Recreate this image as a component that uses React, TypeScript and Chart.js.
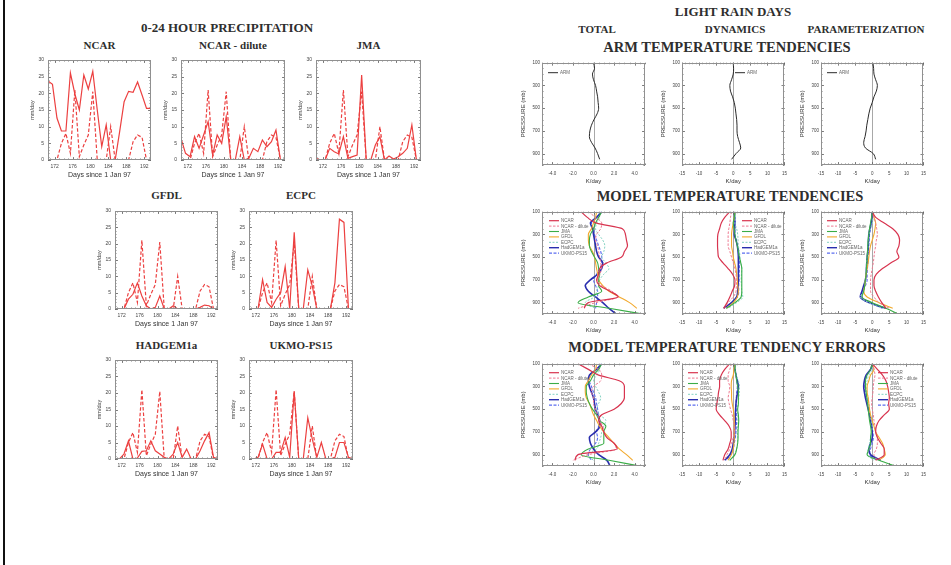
import React, { useEffect, useRef } from "react";
import { Chart, registerables } from "chart.js";
Chart.register(...registerables);

// ---------------- DATA ----------------
// Days (daily means, centred at noon)
const DAYS = [170.5, 171.5, 172.5, 173.5, 174.5, 175.5, 176.5, 177.5, 178.5, 179.5, 180.5, 181.5, 182.5, 183.5, 184.5, 185.5, 186.5, 187.5, 188.5, 189.5, 190.5, 191.5, 192.5, 193.5];
const PRECIP_X_TICKS = [172, 176, 180, 184, 188, 192];
const PRECIP_Y_TICKS = [0, 5, 10, 15, 20, 25, 30];

// observed (dashed) precipitation, mm/day
const OBS_PRECIP = [0, 0, 0, 5, 8, 2, 21, 1, 4.5, 7.5, 20.5, 0, 0, 0, 10, 0, 0, 0, 0, 5.5, 7.5, 6.8, 0, 0];
// model (solid) precipitation, mm/day
const NCAR_PRECIP = [23.7, 22.7, 12.6, 8.7, 8.7, 26.1, 19.8, 15, 25.5, 21.3, 26.6, 15, 4, 10.5, 0, 0, 8.5, 17.5, 20.6, 20.3, 23.4, 19.5, 15.5, 15.5];
const DILUTE_PRECIP = [6.5, 2, 1, 7, 3.5, 7.5, 11.5, 1.5, 7.5, 5, 13, 0, 0, 7, 0, 0.5, 3.5, 2.5, 6, 4, 5.5, 9, 0, 0];
const JMA_PRECIP = [0.5, 0, 0, 3.5, 2.5, 1.8, 7, 0.5, 1, 1.5, 25.5, 0, 0, 4.5, 7, 0, 1.2, 0.3, 1, 2, 3.5, 10.5, 0, 0];
const GFDL_PRECIP = [0, 0, 0, 3, 4.5, 8, 4, 1, 0, 0.5, 4, 0, 0, 1, 0, 0, 0, 0, 0, 0.5, 1.2, 1, 0, 0];
const ECPC_PRECIP = [0, 0, 0, 9, 2, 0.5, 3, 5, 13, 0, 23.5, 0, 0, 12, 7, 0, 0, 0, 0, 8, 27.5, 26.5, 0, 0];
const HADGEM_PRECIP = [0, 0, 1.5, 5.5, 0, 0.3, 2.3, 2.5, 5.5, 2.5, 1.5, 0.5, 0, 1.5, 5, 0.5, 3, 0, 0, 2.5, 5.5, 8, 0.5, 0];
const UKMO_PRECIP = [0, 0, 0.5, 4.5, 0, 0, 2, 2, 6.5, 0.5, 20.5, 0, 0, 12.5, 6, 0.5, 5, 0, 0, 0.5, 5, 5, 0.5, 0];

// Pressure levels (mb)
const LEVELS = [100, 150, 200, 250, 300, 350, 400, 450, 500, 550, 600, 650, 700, 750, 800, 850, 900, 950, 1000];
const PRESSURE_TICKS = [100, 300, 500, 700, 900];
const TOTAL_X_TICKS = [-4, -2, 0, 2, 4];
const WIDE_X_TICKS = [-15, -10, -5, 0, 5, 10, 15];

// ARM temperature tendencies, K/day
const ARM_TOTAL = [0, 0.1, -0.1, 0, 0.2, 0.3, 0.4, 0.45, 0.5, 0.35, 0.05, -0.2, -0.35, -0.4, -0.2, 0.15, 0.4, 0.6, null];
const ARM_DYN = [0, 0.1, 0, -0.5, -1, -0.8, -0.2, 0.3, 0.6, 0.8, 1, 1.1, 1.1, 1.3, 1.8, 2.2, 0.8, -0.5, null];
const ARM_PARAM = [0.2, 0.4, 0.5, 1, 1.5, 1.2, 0.5, 0, -0.6, -1, -1.3, -1.6, -1.8, -2.1, -2.5, -2, 0.3, 1, null];

const MODEL_NAMES = ["NCAR", "NCAR - dilute", "JMA", "GFDL", "ECPC", "HadGEM1a", "UKMO-PS15"];

// model tendencies, rows in MODEL_NAMES order
const TEND_TOTAL = [
  [-1.2, -0.6, 0.3, 2.8, 3.1, 3.2, 3.3, 3.0, 2.7, 1.3, 0.6, 0.5, 0.3, 0.6, 1.6, 2.4, -0.5, -0.9, null],
  [-0.5, 0.2, 0.8, 0.7, 0.3, 0.2, 0.4, 0.5, 0.6, 0.7, 0.8, 0.6, 0.4, 0.8, 1.8, 2.3, 0.2, -1.5, null],
  [0.8, 0.5, 0.2, 0, -0.3, -0.4, -0.4, -0.2, 0.1, 0.4, 0.5, 0.6, 0.5, 0.5, 0.8, -0.5, -1.5, 1.5, 4.8],
  [0.3, 0.2, 0, -0.2, -0.5, -0.5, -0.4, -0.1, 0.1, 0.2, 0.3, 0.4, 0.5, 0.9, 1.5, 2.5, 3.5, 4.2, null],
  [0.5, 0.6, 0.3, 0.2, 0.5, 0.9, 1.1, 1.0, 0.8, 1.2, 1.5, 1.0, 0.6, 0.5, 0.3, 0.1, -0.8, 0.2, null],
  [0.8, 0.3, -0.3, -0.1, 0, 0.1, 0.2, 0.3, 0.5, 0.9, 0.8, 0.4, -0.3, -0.8, -0.5, 0.2, 0.9, 1.5, 2.2],
  [0.8, 0.3, -0.2, 0, 0.1, 0.3, 0.5, 0.7, 0.8, 0.8, 0.6, 0.3, 0, 0.2, 0.4, 0.4, 0.3, 0.2, null],
];
const TEND_DYN = [
  [-1, -2.5, -3.5, -4, -4.5, -4.6, -4.6, -4.5, -4.3, -3, -1.5, -0.2, 0.5, 0.4, -0.3, -1, -1.8, -2.8, null],
  [-0.5, -0.8, -1, -1.3, -1.5, -1.5, -1.5, -1, -0.5, 0, 0.5, 0.8, 1, 0.9, 0.8, 0, -1.5, -2.5, null],
  [0.5, 0.3, 0, 0.3, 0.5, 0.8, 1.2, 1.5, 1.8, 2.2, 2.5, 2.5, 2.5, 2.5, 2.5, 2.3, 0.5, -2, null],
  [0.5, 0.3, 0, -0.3, -0.5, -0.5, -0.5, -0.2, 0, 0.4, 0.8, 1, 1.2, 1.3, 1.5, 1.2, 0, -2, null],
  [0.8, 0.6, 0.5, 1, 1.3, 1.4, 1.5, 1.8, 2, 2.2, 2.5, 2.4, 2.3, 2.4, 2.5, 2.8, 1, -1.5, null],
  [0.3, 0.4, 0.5, 0.4, 0.3, 0.8, 1.2, 1.4, 1.5, 1.5, 1.5, 1.5, 1.5, 1.4, 1.3, 1, -0.5, -2.8, null],
  [0.5, 0.5, 0.5, 0.5, 0.5, 0.9, 1.3, 1.6, 1.8, 1.8, 1.8, 1.7, 1.7, 1.6, 1.6, 1.2, -0.5, -2, null],
];
const TEND_PARAM = [
  [0, 1, 3.5, 6, 7.5, 8, 7.8, 7.2, 7.8, 5.5, 3, 1.2, 0.5, 0.5, 1, 1.8, 2.8, 4, null],
  [0, 0.5, 1, 1.3, 1.5, 1.2, 1, 0.7, 0.5, 0.3, 0, -0.3, -0.5, -0.5, -0.5, 0.5, 2, 5, null],
  [0, -0.2, -0.5, -0.8, -1, -1.2, -1.3, -1.4, -1.5, -1.6, -1.7, -1.8, -2, -2.2, -2.5, -3, 0, 4, 7.5],
  [0, 0.5, 1, 0.8, 0.5, 0, -0.5, -0.8, -1, -1.2, -1.5, -1.8, -2, -2.2, -2.5, -1.5, 2, 6, null],
  [0.5, 0.3, 0, -0.5, -1, -1.2, -1.3, -1.4, -1.5, -1.7, -1.8, -1.9, -2, -2.2, -2.5, -3.5, -1, 3, null],
  [0, -0.1, -0.3, -0.7, -1, -1.1, -1.2, -1.3, -1.5, -1.6, -1.7, -1.8, -2, -2.5, -3, -3.5, -1, 4, null],
  [0, -0.1, -0.3, -0.5, -0.8, -0.9, -1, -1.1, -1.2, -1.3, -1.4, -1.5, -1.5, -2, -2.8, -3, -0.5, 3, null],
];
// model tendency errors, rows in MODEL_NAMES order
const ERR_TOTAL = [
  [-1.5, -0.5, 0.5, 2.5, 3, 3, 3, 2.7, 2, 0.8, 0.5, 0.8, 1, 1.3, 2, 2.3, -1.5, -1.8, null],
  [-0.5, 0.5, 0.8, 0.7, 0, -0.2, 0, 0, 0.2, 0.4, 0.6, 0.9, 1, 1.3, 2, 2.2, -0.5, -2, null],
  [0.8, 0.5, 0, -0.3, -0.7, -0.7, -0.6, -0.4, -0.1, 0.3, 0.6, 1.2, 1, 1, 1, -0.5, -1.2, 1.5, 4.5],
  [0.3, 0.2, -0.2, -0.5, -0.8, -0.8, -0.7, -0.4, -0.2, 0, 0.3, 0.6, 1, 1.5, 2, 2.5, 3.2, 3.8, null],
  [0.5, 0.6, 0.3, 0, 0.2, 0.5, 0.7, 0.5, 0.3, 0.6, 1.2, 1, 0.8, 0.7, 0.5, 0.3, -0.6, 0, null],
  [0.8, 0.3, -0.4, -0.5, -0.4, -0.2, 0, 0.1, 0.2, 0.4, 0.6, 0.6, 0.2, -0.4, -0.3, 0, 0.5, 1.3, 1.6],
  [0.8, 0.3, -0.3, -0.4, -0.2, 0, 0.2, 0.3, 0.4, 0.5, 0.6, 0.5, 0.3, 0.4, 0.2, -0.3, -0.5, -0.2, null],
];
const ERR_DYN = [
  [-1, -2.5, -3.5, -4, -4, -4.3, -4.5, -4.8, -5, -4, -2.5, -1.2, -0.6, -0.6, -1, -1.5, -2.5, -3, null],
  [-0.5, -1, -1.5, -1.5, -1, -1.2, -1.5, -1.2, -0.8, -0.3, 0, 0.3, 0.3, 0, -0.5, -1, -1.8, -2.5, null],
  [0.5, 0.5, 0.8, 1, 1.3, 1.5, 1.5, 1.5, 1.3, 1.5, 1.6, 1.5, 1.4, 1.4, 1.3, 1, 0.5, -1, null],
  [0.5, 0.2, 0, -0.5, -0.6, -0.5, -0.5, -0.3, 0, 0.2, 0.3, 0.3, 0.3, 0.3, 0.2, 0, -0.5, -1.5, null],
  [0.8, 0.6, 0.8, 1.5, 1.8, 1.8, 1.6, 1.5, 1.2, 1.3, 1.4, 1.3, 1.2, 1.3, 1.2, 1, 0.3, -1, null],
  [0.3, 0.5, 0.8, 1.2, 1.5, 1.3, 1, 0.8, 0.7, 0.6, 0.6, 0.5, 0.4, 0.3, 0, -0.3, -1, -2.5, null],
  [0.5, 0.5, 0.8, 1, 1.2, 1, 0.9, 0.8, 0.9, 1, 1, 0.9, 0.8, 0.6, 0.3, 0, -0.8, -2, null],
];
const ERR_PARAM = [
  [0, 1.5, 3, 4, 4.5, 4.8, 5, 4.8, 5, 3.5, 2, 1.2, 1, 1.5, 2.5, 3.5, 3.5, 1, null],
  [0, 0.5, 0.8, 0.5, 0.3, 0.2, 0, -0.2, 0, 0.3, 0.5, 0.8, 1, 1.5, 1.5, 1.2, 0.5, 1.5, null],
  [0, -0.5, -1.5, -2, -2, -1.8, -1.6, -1.4, -1.2, -1, -0.8, -0.5, -0.3, -0.5, -0.5, -1, -1.5, 2, 6.5],
  [0, 0.5, -0.5, -1, -1.5, -1.5, -1.2, -1, -0.8, -0.5, 0, 0.5, 1, 2, 3, 3.5, 3.8, 2, null],
  [0.3, 0, -1, -1.5, -1.8, -1.5, -1.2, -1, -0.8, -0.6, -0.3, 0, -0.2, -0.5, -0.8, -1.2, -1.5, 0.5, null],
  [0, -0.5, -1.8, -2.3, -2.5, -2.3, -2, -1.6, -1.2, -0.8, -0.5, -0.2, 0, 0, -0.5, -1, -0.5, 2.5, null],
  [0, -0.5, -1.5, -2, -2.2, -2, -1.6, -1.3, -1, -0.7, -0.4, -0.2, 0.2, 0.3, 0, -0.5, -0.8, 1.5, null],
];

// ---------------- STYLES ----------------
const SANS = '"Liberation Sans", Arial, Helvetica, sans-serif';
const SERIF = '"Liberation Serif", "Times New Roman", serif';
const PRECIP_RED = "#ec4040";
const MODEL_COLORS = ["#d8344f", "#ee7a92", "#3aad47", "#f2a92c", "#84d2c2", "#2a2eae", "#5b6cf0"];
const MODEL_DASH = [[], [2.5, 1.5], [], [], [2, 1.5], [], [3, 1.5]];
const MODEL_WIDTH = [1.2, 1, 1.1, 1.1, 1, 1.6, 1.1];

// ---------------- PLUGINS ----------------
function minorValues(min: number, max: number, step: number) {
  const out: number[] = [];
  const lo = Math.min(min, max), hi = Math.max(min, max);
  for (let v = Math.ceil(lo / step - 1e-9) * step; v <= hi + 1e-9; v += step) out.push(v);
  return out;
}

const framePlugin: any = {
  id: "frame",
  beforeDatasetsDraw(chart: any, _a: any, o: any) {
    if (!o || !o.zero) return;
    const { ctx, chartArea: a } = chart;
    const x0 = Math.round(chart.scales.x.getPixelForValue(0)) + 0.5;
    ctx.save();
    ctx.strokeStyle = "#a8a8a8";
    ctx.lineWidth = 1;
    ctx.beginPath();
    ctx.moveTo(x0, a.top);
    ctx.lineTo(x0, a.bottom);
    ctx.stroke();
    ctx.restore();
  },
  afterDatasetsDraw(chart: any, _a: any, o: any) {
    const { ctx, chartArea: a, scales } = chart;
    const xs = scales.x, ys = scales.y;
    ctx.save();
    ctx.strokeStyle = "#666";
    ctx.lineWidth = 0.8;
    ctx.beginPath();
    const xt = (v: number, len: number) => {
      const p = Math.round(xs.getPixelForValue(v)) + 0.5;
      ctx.moveTo(p, a.bottom); ctx.lineTo(p, a.bottom - len);
      ctx.moveTo(p, a.top); ctx.lineTo(p, a.top + len);
    };
    const yt = (v: number, len: number) => {
      const p = Math.round(ys.getPixelForValue(v)) + 0.5;
      ctx.moveTo(a.left, p); ctx.lineTo(a.left + len, p);
      ctx.moveTo(a.right, p); ctx.lineTo(a.right - len, p);
    };
    minorValues(xs.min, xs.max, o.xMinor).forEach((v) => xt(v, 1.5));
    minorValues(ys.min, ys.max, o.yMinor).forEach((v) => yt(v, 1.5));
    xs.ticks.forEach((t: any) => xt(t.value, 3));
    ys.ticks.forEach((t: any) => yt(t.value, 3));
    ctx.stroke();
    ctx.strokeStyle = "#909090";
    ctx.lineWidth = 1;
    ctx.strokeRect(Math.round(a.left) + 0.5, Math.round(a.top) + 0.5, Math.round(a.right - a.left) - 1, Math.round(a.bottom - a.top) - 1);
    ctx.restore();
  },
};

const legendPlugin: any = {
  id: "inlegend",
  afterDatasetsDraw(chart: any, _a: any, o: any) {
    if (!o || !o.show) return;
    const { ctx, chartArea: a } = chart;
    let y = a.top + o.dy;
    const x = a.left + o.dx;
    ctx.save();
    ctx.font = `4.5px ${SANS}`;
    ctx.textBaseline = "middle";
    chart.data.datasets.forEach((ds: any) => {
      ctx.strokeStyle = ds.borderColor;
      ctx.lineWidth = Math.min(ds.borderWidth, 1.4);
      ctx.setLineDash(ds.borderDash || []);
      ctx.beginPath();
      ctx.moveTo(x, y);
      ctx.lineTo(x + 10, y);
      ctx.stroke();
      ctx.setLineDash([]);
      ctx.fillStyle = "#666";
      ctx.fillText(ds.label, x + 12, y + 0.3);
      y += o.gap;
    });
    ctx.restore();
  },
};

// ---------------- CHART BUILDERS ----------------
const P_L = 22, P_T = 4, P_R = 6, P_B = 20;
const V_L = 26, V_T = 4, V_R = 8, V_B = 20;

function baseOptions(T: number, R: number) {
  return {
    animation: false,
    responsive: false,
    devicePixelRatio: 1,
    events: [],
    layout: { padding: { top: T, right: R, left: 0, bottom: 0 }, autoPadding: false },
  };
}

function precipConfig(model: number[]) {
  return {
    type: "line",
    data: {
      datasets: [
        { label: "model", data: DAYS.map((d, i) => ({ x: d, y: model[i] })), borderColor: PRECIP_RED, borderWidth: 1.2, pointRadius: 0, tension: 0 },
        { label: "ARM", data: DAYS.map((d, i) => ({ x: d, y: OBS_PRECIP[i] })), borderColor: PRECIP_RED, borderWidth: 1.2, borderDash: [3.5, 2], pointRadius: 0, tension: 0 },
      ],
    },
    options: {
      ...baseOptions(P_T, P_R),
      plugins: { legend: { display: false }, tooltip: { enabled: false }, frame: { xMinor: 1, yMinor: 1, zero: false }, inlegend: { show: false } },
      scales: {
        x: {
          type: "linear", min: DAYS[0], max: DAYS[DAYS.length - 1],
          afterBuildTicks: (s: any) => { s.ticks = PRECIP_X_TICKS.map((v) => ({ value: v })); },
          afterFit: (s: any) => { s.height = P_B; },
          grid: { display: false, drawTicks: false }, border: { display: false },
          ticks: { font: { size: 5, family: SANS }, color: "#444", padding: 4, maxRotation: 0, autoSkip: false },
          title: { display: true, text: "Days since 1 Jan 97", font: { size: 7, family: SANS }, color: "#333", padding: { top: 0, bottom: 1 } },
        },
        y: {
          type: "linear", min: 0, max: 30,
          afterBuildTicks: (s: any) => { s.ticks = PRECIP_Y_TICKS.map((v) => ({ value: v })); },
          afterFit: (s: any) => { s.width = P_L; },
          grid: { display: false, drawTicks: false }, border: { display: false },
          ticks: { font: { size: 5, family: SANS }, color: "#444", padding: 4, autoSkip: false },
          title: { display: true, text: "mm/day", font: { size: 5.5, family: SANS }, color: "#444", padding: { top: 3, bottom: 0 } },
        },
      },
    },
  };
}

type Series = { label: string; data: (number | null)[]; color: string; dash: number[]; width: number };

function profileConfig(series: Series[], wide: boolean, leg: { dx: number; dy: number; gap: number }) {
  const xr = wide ? 15 : 5;
  const xticks = wide ? WIDE_X_TICKS : TOTAL_X_TICKS;
  return {
    type: "line",
    data: {
      datasets: series.map((s) => ({
        label: s.label,
        data: LEVELS.map((p, i) => ({ x: s.data[i], y: p })).filter((d) => d.x !== null),
        borderColor: s.color, borderWidth: s.width, borderDash: s.dash, pointRadius: 0, tension: 0.3, cubicInterpolationMode: "monotone",
      })),
    },
    options: {
      ...baseOptions(V_T, V_R),
      indexAxis: "y",
      plugins: {
        legend: { display: false }, tooltip: { enabled: false },
        frame: { xMinor: wide ? 1 : 0.5, yMinor: 50, zero: true },
        inlegend: { show: true, dx: leg.dx, dy: leg.dy, gap: leg.gap },
      },
      scales: {
        x: {
          type: "linear", min: -xr, max: xr,
          afterBuildTicks: (s: any) => { s.ticks = xticks.map((v) => ({ value: v })); },
          afterFit: (s: any) => { s.height = V_B; },
          grid: { display: false, drawTicks: false }, border: { display: false },
          ticks: { font: { size: 4.5, family: SANS }, color: "#444", padding: 6, maxRotation: 0, autoSkip: false, callback: (v: any) => (wide ? String(v) : Number(v).toFixed(1)) },
          title: { display: true, text: "K/day", font: { size: 6, family: SANS }, color: "#333", padding: { top: 0, bottom: 0 } },
        },
        y: {
          type: "linear", min: 100, max: 1000, reverse: true,
          afterBuildTicks: (s: any) => { s.ticks = PRESSURE_TICKS.map((v) => ({ value: v })); },
          afterFit: (s: any) => { s.width = V_L; },
          grid: { display: false, drawTicks: false }, border: { display: false },
          ticks: { font: { size: 4.5, family: SANS }, color: "#444", padding: 2, autoSkip: false },
          title: { display: true, text: "PRESSURE (mb)", font: { size: 6, family: SANS }, color: "#333", padding: { top: 3.4, bottom: 0 } },
        },
      },
    },
  };
}

function modelSeries(rows: (number | null)[][]): Series[] {
  return MODEL_NAMES.map((n, i) => ({ label: n, data: rows[i], color: MODEL_COLORS[i], dash: MODEL_DASH[i], width: MODEL_WIDTH[i] }));
}
function armSeries(d: (number | null)[]): Series[] {
  return [{ label: "ARM", data: d, color: "#2a2a2a", dash: [], width: 1 }];
}

// ---------------- COMPONENTS ----------------
function ChartCanvas({ left, top, width, height, build }: any) {
  const ref = useRef<HTMLCanvasElement>(null);
  useEffect(() => {
    const chart = new Chart(ref.current as HTMLCanvasElement, build() as any);
    return () => chart.destroy();
  }, []);
  return <canvas ref={ref} width={width} height={height} style={{ position: "absolute", left, top, width, height }} />;
}

function Label({ x, y, size, children }: any) {
  return (
    <div style={{ position: "absolute", left: x, top: y, transform: "translate(-50%,-50%)", fontFamily: SERIF, fontWeight: 700, fontSize: size, lineHeight: 1, whiteSpace: "nowrap", color: "#2e2e2e" }}>
      {children}
    </div>
  );
}

const PRECIP_PANELS = [
  { title: "NCAR", data: NCAR_PRECIP, x: 48, y: 57, w: 103, h: 103, ty: 45 },
  { title: "NCAR - dilute", data: DILUTE_PRECIP, x: 181, y: 57, w: 104, h: 103, ty: 45 },
  { title: "JMA", data: JMA_PRECIP, x: 316, y: 57, w: 105, h: 103, ty: 45 },
  { title: "GFDL", data: GFDL_PRECIP, x: 115, y: 208, w: 103, h: 101, ty: 195 },
  { title: "ECPC", data: ECPC_PRECIP, x: 249, y: 208, w: 104, h: 101, ty: 195 },
  { title: "HADGEM1a", data: HADGEM_PRECIP, x: 115, y: 357, w: 103, h: 102, ty: 345 },
  { title: "UKMO-PS15", data: UKMO_PRECIP, x: 249, y: 357, w: 104, h: 102, ty: 345 },
];

const COL_X = [542, 682, 821];
const ROW_Y = [62, 211, 363];
const PROFILE_W = 103;
const PROFILE_H = 103;

const PROFILE_PANELS = [
  { row: 0, col: 0, series: armSeries(ARM_TOTAL), leg: { dx: 6, dy: 10, gap: 5 } },
  { row: 0, col: 1, series: armSeries(ARM_DYN), leg: { dx: 53, dy: 10, gap: 5 } },
  { row: 0, col: 2, series: armSeries(ARM_PARAM), leg: { dx: 6, dy: 10, gap: 5 } },
  { row: 1, col: 0, series: modelSeries(TEND_TOTAL), leg: { dx: 7, dy: 9, gap: 5.4 } },
  { row: 1, col: 1, series: modelSeries(TEND_DYN), leg: { dx: 60, dy: 9, gap: 5.4 } },
  { row: 1, col: 2, series: modelSeries(TEND_PARAM), leg: { dx: 6, dy: 9, gap: 5.4 } },
  { row: 2, col: 0, series: modelSeries(ERR_TOTAL), leg: { dx: 7, dy: 9, gap: 5.4 } },
  { row: 2, col: 1, series: modelSeries(ERR_DYN), leg: { dx: 6, dy: 9, gap: 5.4 } },
  { row: 2, col: 2, series: modelSeries(ERR_PARAM), leg: { dx: 57, dy: 9, gap: 5.4 } },
];

Chart.register(framePlugin, legendPlugin);

export default function App() {
  return (
    <div style={{ position: "absolute", left: 0, top: 0, width: 951, height: 565, background: "#fff", overflow: "hidden" }}>
      <div style={{ position: "absolute", left: 3, top: 0, width: 2, height: 565, background: "#111" }} />

      <Label x={227} y={27} size={13}>0-24 HOUR PRECIPITATION</Label>
      {PRECIP_PANELS.map((p, i) => (
        <React.Fragment key={"p" + i}>
          <Label x={p.x + p.w / 2} y={p.ty} size={11}>{p.title}</Label>
          <ChartCanvas left={p.x - P_L} top={p.y - P_T} width={p.w + P_L + P_R} height={p.h + P_T + P_B} build={() => precipConfig(p.data)} />
        </React.Fragment>
      ))}

      <Label x={733} y={11} size={13}>LIGHT RAIN DAYS</Label>
      <Label x={597} y={29} size={11}>TOTAL</Label>
      <Label x={735} y={29} size={11}>DYNAMICS</Label>
      <Label x={866} y={29} size={11}>PARAMETERIZATION</Label>
      <Label x={727} y={47} size={14.5}>ARM TEMPERATURE TENDENCIES</Label>
      <Label x={730} y={196} size={14.5}>MODEL TEMPERATURE TENDENCIES</Label>
      <Label x={727} y={347} size={14.5}>MODEL TEMPERATURE TENDENCY ERRORS</Label>

      {PROFILE_PANELS.map((p, i) => {
        const bx = COL_X[p.col], by = ROW_Y[p.row];
        return (
          <ChartCanvas key={"v" + i} left={bx - V_L} top={by - V_T} width={PROFILE_W + V_L + V_R} height={PROFILE_H + V_T + V_B}
            build={() => profileConfig(p.series, p.col !== 0, p.leg)} />
        );
      })}
    </div>
  );
}
